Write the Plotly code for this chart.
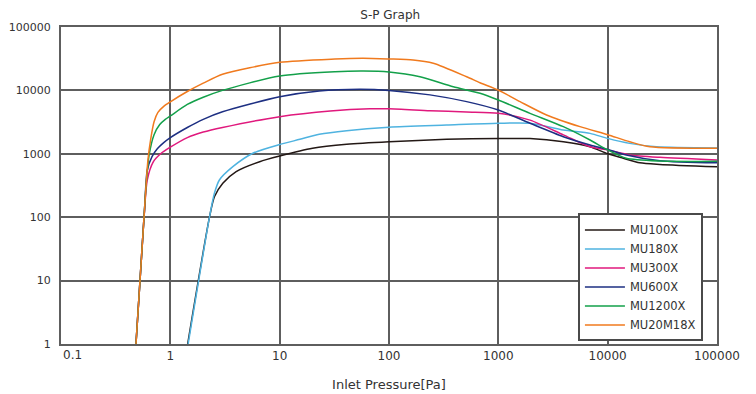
import plotly.graph_objects as go

# ---- data (Inlet pressure [Pa] vs pumping speed) ----
mu100x_p = [1.44, 2.28, 2.53, 3.02, 4.0, 6.56, 10, 20, 41, 100, 336, 1000, 1950, 3930, 6900, 10000, 13900, 19700, 30000, 100000]
mu100x_s = [1, 100, 210, 343, 524, 750, 920, 1220, 1410, 1550, 1690, 1740, 1740, 1550, 1290, 1000, 850, 720, 680, 625]

mu180x_p = [1.455, 2.28, 2.53, 2.81, 3.73, 5.68, 10, 15.3, 23, 41, 100, 336, 1000, 1950, 3930, 6900, 10000, 15900, 28000, 100000]
mu180x_s = [1, 100, 238, 386, 626, 1020, 1400, 1690, 2030, 2320, 2630, 2840, 3030, 3030, 2370, 2100, 1750, 1460, 1290, 1240]

mu300x_p = [0.485, 0.565, 0.58, 0.615, 0.7, 0.815, 1.0, 1.43, 2, 3, 10, 29, 67, 100, 237, 513, 1000, 1950, 3930, 6900, 10000, 15900, 30000, 100000]
mu300x_s = [1, 63, 125, 385, 750, 1000, 1270, 1800, 2200, 2600, 3850, 4730, 5130, 5130, 4790, 4570, 4370, 3400, 1990, 1290, 1150, 960, 880, 800]

mu600x_p = [0.485, 0.565, 0.58, 0.615, 0.68, 0.76, 0.87, 1.0, 1.43, 2, 3, 10, 23, 54, 100, 237, 513, 1000, 1950, 3930, 6900, 10000, 14800, 30000, 100000]
mu600x_s = [1, 63, 125, 550, 900, 1200, 1500, 1800, 2600, 3500, 4600, 7950, 9800, 10400, 10000, 8500, 6650, 4900, 3030, 1860, 1380, 1170, 960, 780, 720]

mu1200x_p = [0.485, 0.565, 0.6, 0.64, 0.71, 0.8, 0.9, 1.0, 1.43, 2, 3, 10, 32, 58, 100, 192, 387, 680, 1000, 1950, 3930, 6900, 10000, 14800, 30000, 100000]
mu1200x_s = [1, 63, 315, 960, 2000, 2900, 3500, 3950, 6000, 7800, 10000, 16900, 19700, 20200, 19500, 16400, 11400, 9000, 7050, 4350, 2680, 1650, 1150, 850, 770, 760]

mu20m18x_p = [0.485, 0.565, 0.624, 0.66, 0.71, 0.77, 0.87, 1.0, 1.43, 2, 3, 10, 32, 58, 100, 166, 254, 513, 680, 1000, 1580, 2760, 5580, 10000, 15900, 24400, 100000]
mu20m18x_s = [1, 63, 800, 1660, 3200, 4500, 5600, 6600, 9600, 13000, 18000, 27700, 31300, 32100, 31300, 30200, 26800, 16400, 13200, 10100, 6650, 4100, 2680, 2000, 1550, 1290, 1220]

names = ["MU100X", "MU180X", "MU300X", "MU600X", "MU1200X", "MU20M18X"]
colors = ["#231815", "#4fb3e0", "#e0197d", "#1d2f82", "#13a04a", "#f07a1e"]

x_ticks = [0.1, 1, 10, 100, 1000, 10000, 100000]
x_tick_text = ["0.1", "1", "10", "100", "1000", "10000", "100000"]
y_ticks = [1, 10, 100, 1000, 10000, 100000]
y_tick_text = ["1", "10", "100", "1000", "10000", "100000"]

series = [
    (mu100x_p, mu100x_s),
    (mu180x_p, mu180x_s),
    (mu300x_p, mu300x_s),
    (mu600x_p, mu600x_s),
    (mu1200x_p, mu1200x_s),
    (mu20m18x_p, mu20m18x_s),
]

fig = go.Figure()
for (xs, ys), name, col in zip(series, names, colors):
    fig.add_trace(go.Scatter(
        x=xs, y=ys, name=name, mode="lines",
        line=dict(color=col, width=1.5, shape="spline", smoothing=0.7),
    ))

grid_col = "#5e5e5e"
font_family = "DejaVu Sans"

# the first x tick label sits right of its gridline (it does not overhang the frame)
x_labels_shown = [""] + x_tick_text[1:]
fig.add_annotation(
    x=-1, xref="x", y=0, yref="paper", text=x_tick_text[0],
    showarrow=False, xanchor="left", yanchor="top", xshift=0, yshift=-2,
    font=dict(size=12, color="#333333"),
)

fig.update_layout(
    width=748, height=386,
    margin=dict(l=53, r=39, t=19, b=50),
    paper_bgcolor="white", plot_bgcolor="white",
    font=dict(family=font_family, size=12, color="#333333"),
    title=dict(text="S-P Graph", x=0.511, xanchor="center", y=1, yanchor="top",
               yref="container", pad=dict(t=3, b=0, l=0, r=0),
               font=dict(size=12, color="#333333")),
    showlegend=True,
    legend=dict(
        x=0.788, y=0.412, xanchor="left", yanchor="top",
        bgcolor="white", bordercolor="#4a4a4a", borderwidth=2,
        font=dict(size=11.5, color="#333333"),
        tracegroupgap=0, itemwidth=40,
    ),
)

fig.update_xaxes(
    type="log", range=[-1, 5], automargin=False,
    tickvals=x_ticks, ticktext=x_labels_shown,
    showgrid=True, gridcolor=grid_col, gridwidth=2,
    showline=True, linecolor=grid_col, linewidth=2, mirror=True,
    ticks="", zeroline=False,
    title=dict(text="Inlet Pressure[Pa]", font=dict(size=13), standoff=17),
    tickfont=dict(size=12),
)
fig.update_yaxes(
    type="log", range=[0, 5], automargin=False,
    tickvals=y_ticks, ticktext=y_tick_text,
    showgrid=True, gridcolor=grid_col, gridwidth=2,
    showline=True, linecolor=grid_col, linewidth=2, mirror=True,
    ticks="outside", ticklen=6, tickcolor="rgba(0,0,0,0)",
    zeroline=False,
    tickfont=dict(size=11),
)

fig.write_html("out.html")
